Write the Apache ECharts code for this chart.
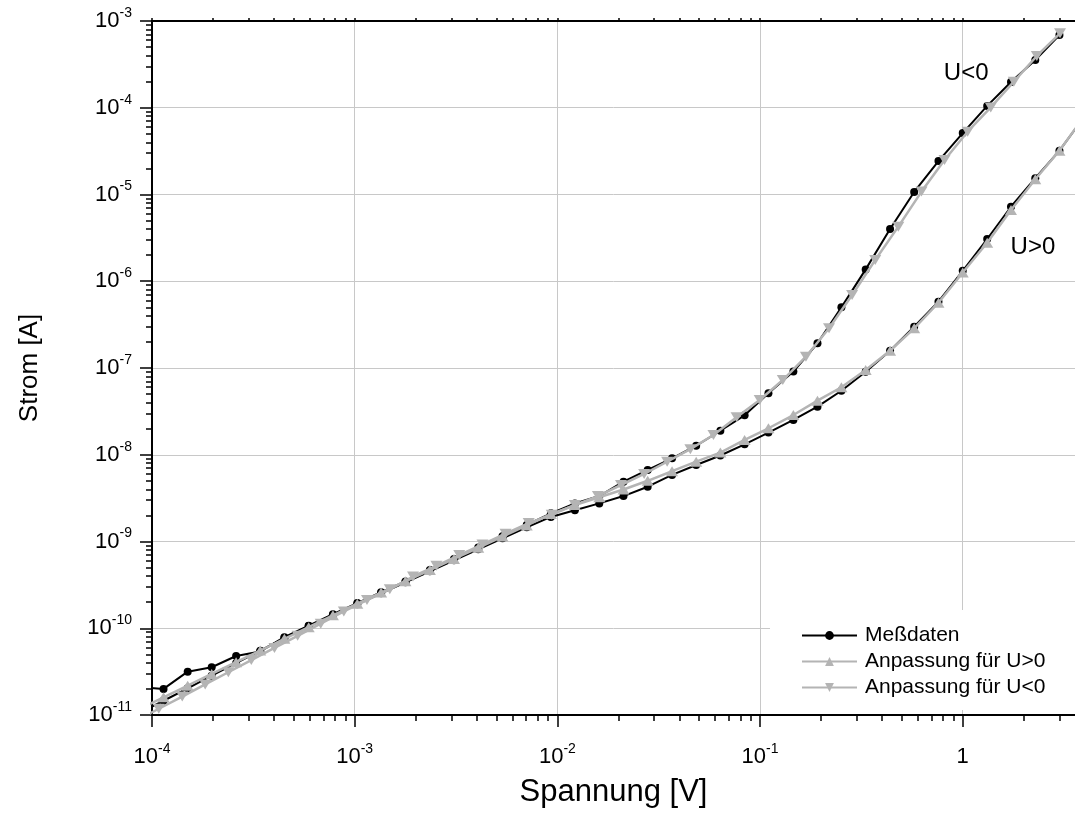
<!DOCTYPE html>
<html>
<head>
<meta charset="utf-8">
<script src="https://cdn.jsdelivr.net/npm/echarts@6/dist/echarts.min.js"></script>
<style>
  html, body { margin: 0; padding: 0; background: #fff; }
  #chart { width: 1075px; height: 818px; }
</style>
</head>
<body>
<div id="chart"></div>
<script>
// Sweep voltages |U| in V (same steps for both polarities)
const spannung = [8.66e-5, 1.14e-4, 1.50e-4, 1.97e-4, 2.60e-4, 3.42e-4, 4.50e-4, 5.93e-4, 7.81e-4,
  1.03e-3, 1.35e-3, 1.78e-3, 2.35e-3, 3.09e-3, 4.07e-3, 5.36e-3, 7.06e-3, 9.29e-3,
  1.22e-2, 1.61e-2, 2.12e-2, 2.79e-2, 3.68e-2, 4.84e-2, 6.37e-2, 8.39e-2,
  0.110, 0.146, 0.192, 0.252, 0.332, 0.438, 0.576, 0.759, 1.00, 1.32, 1.73, 2.28, 3.00, 3.95];

// Measured current in A, positive bias
const stromPos = [1.05e-11, 1.46e-11, 2.03e-11, 2.84e-11, 3.96e-11, 5.52e-11, 7.71e-11, 1.06e-10, 1.41e-10,
  1.89e-10, 2.53e-10, 3.39e-10, 4.54e-10, 6.08e-10, 8.13e-10, 1.09e-9, 1.46e-9, 1.92e-9,
  2.29e-9, 2.75e-9, 3.34e-9, 4.28e-9, 5.85e-9, 7.62e-9, 9.80e-9, 1.32e-8,
  1.80e-8, 2.52e-8, 3.58e-8, 5.47e-8, 9.06e-8, 1.58e-7, 2.99e-7, 5.81e-7, 1.32e-6, 3.07e-6, 7.23e-6, 1.54e-5, 3.20e-5, 7.7e-5];

// Measured current in A, negative bias (absolute values)
const stromNeg = [2.1e-11, 2.0e-11, 3.16e-11, 3.55e-11, 4.79e-11, 5.4e-11, 7.9e-11, 1.07e-10, 1.45e-10,
  1.95e-10, 2.6e-10, 3.47e-10, 4.68e-10, 6.3e-10, 8.5e-10, 1.15e-9, 1.55e-9, 2.11e-9,
  2.75e-9, 3.34e-9, 4.89e-9, 6.67e-9, 9.1e-9, 1.27e-8, 1.89e-8, 2.85e-8,
  5.1e-8, 9.1e-8, 1.93e-7, 5.0e-7, 1.37e-6, 4.0e-6, 1.07e-5, 2.43e-5, 5.1e-5, 1.05e-4, 1.98e-4, 3.55e-4, 6.9e-4];

// Model fit for U>0, evaluated at the sweep voltages
const fitPosStrom = [1.17e-11, 1.60e-11, 2.18e-11, 2.97e-11, 4.06e-11, 5.53e-11, 7.55e-11, 1.03e-10, 1.41e-10,
  1.92e-10, 2.58e-10, 3.48e-10, 4.68e-10, 6.29e-10, 8.47e-10, 1.14e-9, 1.53e-9, 2.07e-9,
  2.63e-9, 3.24e-9, 3.98e-9, 5.01e-9, 6.46e-9, 8.32e-9, 1.06e-8, 1.48e-8,
  2.02e-8, 2.87e-8, 4.20e-8, 6.0e-8, 9.48e-8, 1.58e-7, 2.87e-7, 5.66e-7, 1.26e-6, 2.78e-6, 6.62e-6, 1.50e-5, 3.20e-5, 7.76e-5];

// Model fit for U<0, evaluated on its own voltage grid
const fitNegSpannung = [8.32e-5, 1.08e-4, 1.41e-4, 1.83e-4, 2.38e-4, 3.09e-4, 4.02e-4, 5.23e-4, 6.80e-4, 8.84e-4,
  1.15e-3, 1.49e-3, 1.94e-3, 2.53e-3, 3.28e-3, 4.27e-3, 5.55e-3, 7.22e-3, 9.38e-3,
  1.22e-2, 1.585e-2, 2.06e-2, 2.68e-2, 3.48e-2, 4.53e-2, 5.89e-2, 7.66e-2, 9.96e-2,
  0.1295, 0.1684, 0.2189, 0.2846, 0.370, 0.481, 0.626, 0.813, 1.057, 1.375, 1.787, 2.32, 3.02];
const fitNegStrom = [8.57e-12, 1.18e-11, 1.63e-11, 2.25e-11, 3.11e-11, 4.30e-11, 5.93e-11, 8.19e-11, 1.13e-10, 1.56e-10,
  2.11e-10, 2.81e-10, 3.95e-10, 5.25e-10, 6.97e-10, 9.25e-10, 1.23e-9, 1.63e-9, 2.04e-9,
  2.64e-9, 3.34e-9, 4.48e-9, 6.0e-9, 8.32e-9, 1.16e-8, 1.69e-8, 2.70e-8, 4.28e-8,
  7.27e-8, 1.35e-7, 2.87e-7, 6.95e-7, 1.76e-6, 4.26e-6, 1.08e-5, 2.50e-5, 5.30e-5, 1.01e-4, 2.00e-4, 3.95e-4, 7.21e-4];

// Axis ranges and tick decades
const xRange = [1e-4, 3.58];
const yRange = [1e-11, 1e-3];
const xDecades = [1e-4, 1e-3, 1e-2, 1e-1, 1];
const yDecades = [1e-11, 1e-10, 1e-9, 1e-8, 1e-7, 1e-6, 1e-5, 1e-4, 1e-3];
const minorSteps = [2, 3, 4, 5, 6, 7, 8, 9];

const seriesNames = ['Meßdaten', 'Anpassung für U>0', 'Anpassung für U<0'];
const axisNames = { x: 'Spannung [V]', y: 'Strom [A]' };
// Branch captions and where they sit (data coordinates)
const branchLabels = [
  { text: 'U<0', at: [1.04, 2.52e-4] },
  { text: 'U>0', at: [2.22, 2.45e-6] }
];

const FONT = "'Liberation Sans', Arial, Helvetica, sans-serif";
const GRID_GRAY = '#c8c8c8';
const FIT_GRAY = '#b4b4b4';

const pairs = (xs, ys) => ys.map((y, i) => [xs[i], y]);

// log10 positions of minor ticks inside a range
function minorLog(decades, limit) {
  const out = [];
  decades.forEach(d => minorSteps.forEach(m => {
    const v = m * d;
    if (v <= limit) out.push(Math.log10(v));
  }));
  return out;
}
const xMinor = minorLog(xDecades, xRange[1]);
const yMinor = minorLog(yDecades.slice(0, -1), yRange[1]);
const xAllTicks = xDecades.map(Math.log10).concat(xMinor);

const powRich = {
  b: { fontSize: 22, lineHeight: 30, padding: [0, 0, 4, 0], verticalAlign: 'bottom', color: '#000', fontFamily: FONT },
  s: { fontSize: 14, padding: [0, 0, 16, 0], verticalAlign: 'top', color: '#000', fontFamily: FONT }
};
function powLabel(v) {
  const e = Math.round(Math.log10(v));
  return e === 0 ? '{b|1}' : '{b|10}{s|' + e + '}';
}

const blackLine = { color: '#000', width: 2 };
const tickStyle = { color: '#000', width: 1.5 };

// Decoration-only axis that shares the grid and just carries extra ticks
function tickAxis(range, position, ticks, length, showLine) {
  return {
    type: 'value', min: Math.log10(range[0]), max: Math.log10(range[1]), position: position,
    axisLine: { show: !!showLine, onZero: false, lineStyle: blackLine },
    axisTick: { show: true, inside: false, length: length, customValues: ticks, lineStyle: tickStyle },
    axisLabel: { show: false },
    splitLine: { show: false }
  };
}

const textLabel = {
  show: true, position: 'inside', formatter: '{b}', fontSize: 24, color: '#000',
  fontFamily: FONT, textBorderWidth: 0
};

const chart = echarts.init(document.getElementById('chart'), null, { renderer: 'canvas' });

chart.setOption({
  animation: false,
  backgroundColor: '#fff',
  textStyle: { fontFamily: FONT },
  grid: { left: 152, right: 0, top: 21, bottom: 103, containLabel: false, outerBoundsMode: 'none' },
  legend: {
    data: seriesNames,
    orient: 'vertical',
    left: 770,
    top: 610,
    padding: [15, 40, 12, 31],
    itemWidth: 55,
    itemHeight: 11,
    itemGap: 5,
    backgroundColor: '#fff',
    selectedMode: false,
    textStyle: { fontSize: 21, color: '#000', fontFamily: FONT, padding: [0, 0, 0, 3] }
  },
  xAxis: [
    {
      type: 'log', logBase: 10, min: xRange[0], max: xRange[1], position: 'bottom',
      name: axisNames.x, nameLocation: 'middle', nameGap: 47,
      nameTextStyle: { fontSize: 31, color: '#000', fontFamily: FONT },
      axisLine: { show: true, onZero: false, lineStyle: blackLine },
      axisTick: { show: true, inside: false, length: 12, lineStyle: tickStyle },
      minorTick: { show: false },
      axisLabel: { show: true, margin: 27, formatter: powLabel, rich: powRich, showMaxLabel: false, showMinLabel: true },
      splitLine: { show: true, showMaxLine: false, lineStyle: { color: GRID_GRAY, width: 1 } }
    },
    tickAxis(xRange, 'bottom', xMinor, 6, false),
    tickAxis(xRange, 'top', xAllTicks, 3, true)
  ],
  yAxis: [
    {
      type: 'log', logBase: 10, min: yRange[0], max: yRange[1], position: 'left',
      name: axisNames.y, nameLocation: 'middle', nameGap: 109,
      nameTextStyle: { fontSize: 26, color: '#000', fontFamily: FONT },
      axisLine: { show: true, onZero: false, lineStyle: blackLine },
      axisTick: { show: true, inside: false, length: 12, lineStyle: tickStyle },
      minorTick: { show: false },
      axisLabel: { show: true, margin: 20, formatter: powLabel, rich: powRich, showMinLabel: true, showMaxLabel: true },
      splitLine: { show: true, lineStyle: { color: GRID_GRAY, width: 1 } }
    },
    tickAxis(yRange, 'left', yMinor, 6, false)
  ],
  series: [
    {
      name: seriesNames[0], type: 'line', xAxisIndex: 0, yAxisIndex: 0, z: 3,
      data: pairs(spannung, stromPos),
      symbol: 'circle', symbolSize: 8, showAllSymbol: true,
      lineStyle: { color: '#000', width: 2 }, itemStyle: { color: '#000' },
      markPoint: {
        symbol: 'rect', symbolSize: 1, itemStyle: { color: 'rgba(0,0,0,0)' },
        label: textLabel,
        data: [{ name: branchLabels[1].text, coord: branchLabels[1].at }]
      }
    },
    {
      name: seriesNames[0], type: 'line', xAxisIndex: 0, yAxisIndex: 0, z: 3,
      data: pairs(spannung, stromNeg),
      symbol: 'circle', symbolSize: 8, showAllSymbol: true,
      lineStyle: { color: '#000', width: 2 }, itemStyle: { color: '#000' },
      markPoint: {
        symbol: 'rect', symbolSize: 1, itemStyle: { color: 'rgba(0,0,0,0)' },
        label: textLabel,
        data: [{ name: branchLabels[0].text, coord: branchLabels[0].at }]
      }
    },
    {
      name: seriesNames[1], type: 'line', xAxisIndex: 0, yAxisIndex: 0, z: 4,
      data: pairs(spannung, fitPosStrom),
      symbol: 'triangle', symbolSize: [12, 10], showAllSymbol: true,
      lineStyle: { color: FIT_GRAY, width: 2.5 }, itemStyle: { color: FIT_GRAY }
    },
    {
      name: seriesNames[2], type: 'line', xAxisIndex: 0, yAxisIndex: 0, z: 4,
      data: pairs(fitNegSpannung, fitNegStrom),
      symbol: 'path://M0,0L10,0L5,9Z', symbolSize: [12, 10], showAllSymbol: true,
      lineStyle: { color: FIT_GRAY, width: 2.5 }, itemStyle: { color: FIT_GRAY }
    }
  ]
});
</script>
</body>
</html>
